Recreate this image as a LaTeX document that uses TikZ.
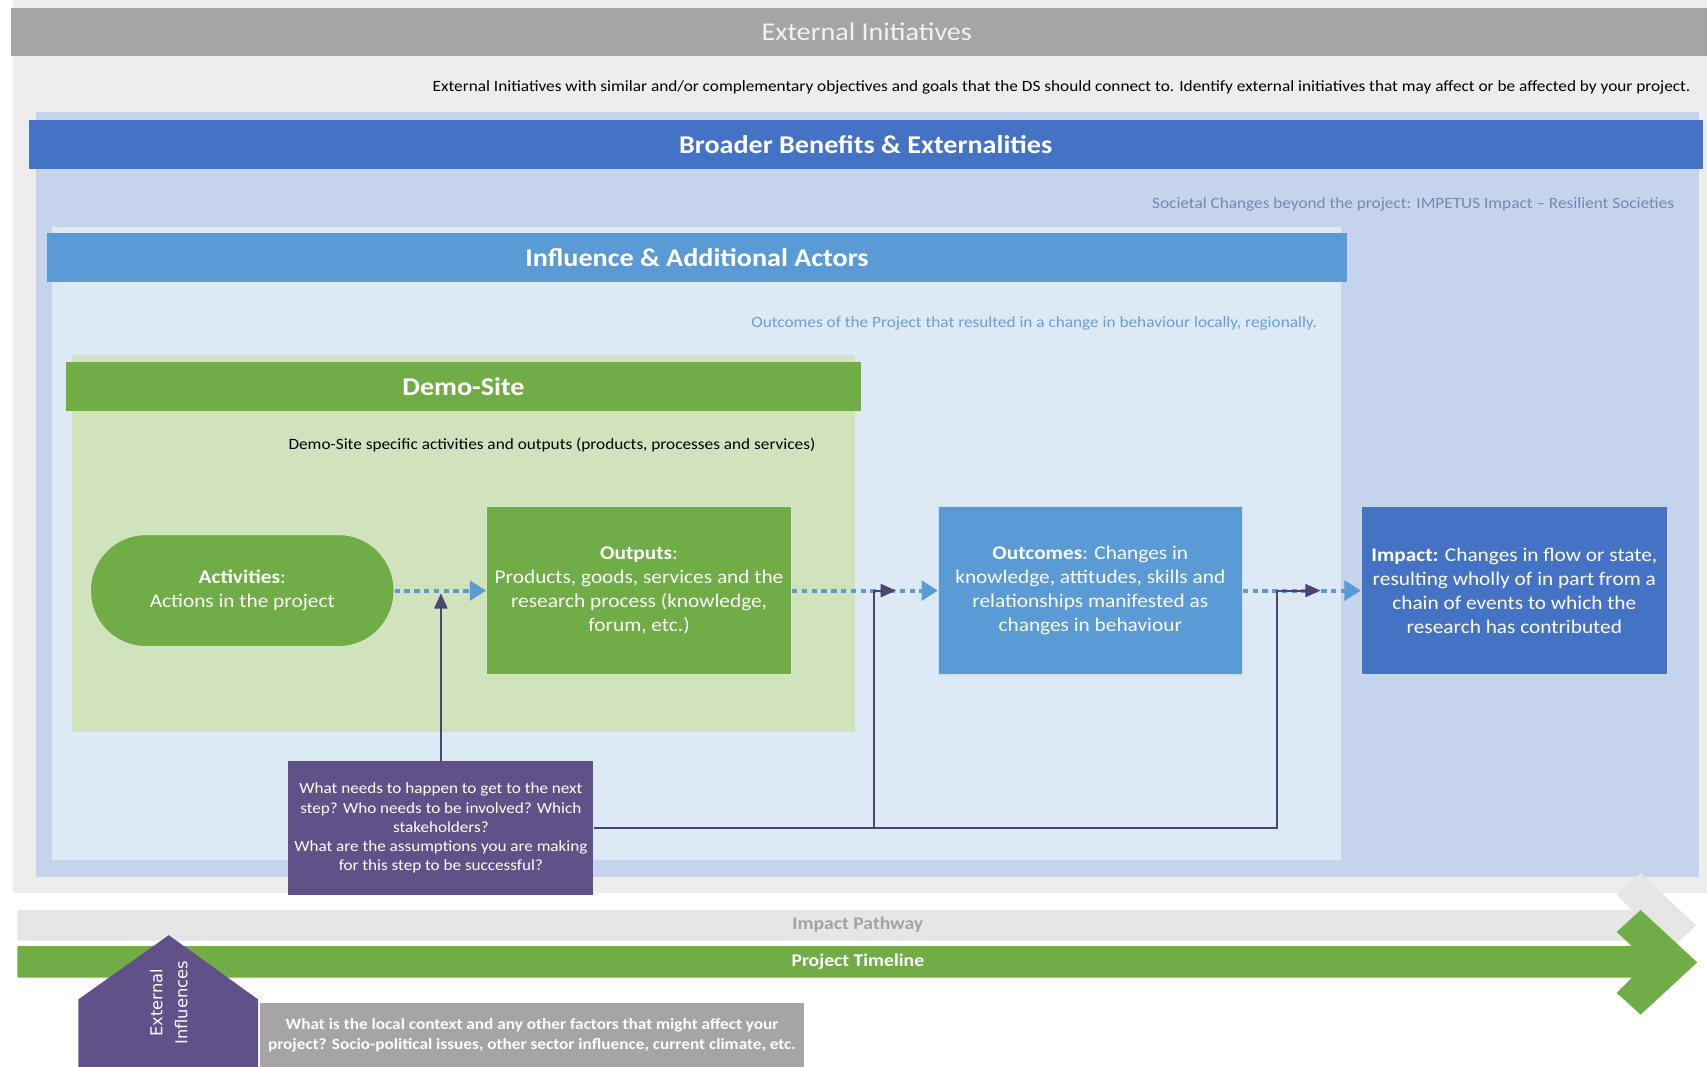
\documentclass[tikz,border=0pt]{standalone}
\usepackage{fontspec}
\setmainfont{Carlito}[FakeStretch=1.1]
\newfontfamily\verafont{DejaVu Sans}
\usepackage{tikz}
\usetikzlibrary{positioning, arrows.meta}
\definecolor{extgray}{HTML}{A5A5A5}
\definecolor{panelgray}{HTML}{EDEDED}
\definecolor{benefitblue}{HTML}{4472C4}
\definecolor{benefitbg}{HTML}{C6D3EC}
\definecolor{actorblue}{HTML}{5B9BD5}
\definecolor{actorbg}{HTML}{DDEAF6}
\definecolor{actornote}{HTML}{6A9FD3}
\definecolor{demogreen}{HTML}{70AD47}
\definecolor{demobg}{HTML}{D0E3BC}
\definecolor{askpurple}{HTML}{605288}
\definecolor{linepurple}{HTML}{4E4474}
\definecolor{pathgray}{HTML}{E6E6E6}
\definecolor{pathtext}{HTML}{A3A3A3}
\definecolor{benefitnote}{HTML}{6E8CB4}

\newcommand{\txtsize}[2]{\fontsize{#1}{#2}\selectfont}

\begin{document}
\begin{tikzpicture}[
    x=1pt, y=-1pt,
    every node/.style={inner sep=0pt, font=\txtsize{14.4}{17}},
    panel/.style={fill=#1, anchor=north west},
    titlebar/.style={fill=#1, anchor=north west, text=white, minimum height=45, font=\txtsize{23.5}{26}\bfseries},
    note/.style={anchor=east, text=#1},
    stepbox/.style={fill=#1, draw=white!70!#1, line width=1pt, text=white, align=center,
      minimum width=280, minimum height=155, font=\txtsize{17.8}{22}},
    flow/.style={draw=actorblue, line width=3.5pt, dash pattern=on 5pt off 4pt,
      -{Triangle[length=15pt, width=18pt]}},
    assume/.style={draw=linepurple, line width=2pt, -{Triangle[length=14pt, width=12pt]}},
  ]
  \useasboundingbox (0,0) rectangle (1568,980);

  % nested panels
  \node[panel=panelgray, minimum width=1556, minimum height=820] (extpanel) at (12,0) {};
  \node[titlebar=extgray, minimum width=1558, minimum height=44, font=\txtsize{23.5}{26}, text=white!95!black] (exttitle) at (10,7) {\hspace*{14pt}External Initiatives};
  \node[note=black] (extnote) at (1553,80)
    {External Initiatives with similar and/or complementary objectives and goals that the DS should connect to. Identify external initiatives that may affect or be affected by your project.};

  \node[panel=benefitbg, minimum width=1527, minimum height=702] (benefitpanel) at (33,103) {};
  \node[titlebar=benefitblue, minimum width=1538] (benefittitle) at (26,110) {Broader Benefits \& Externalities};
  \node[note=benefitnote] (benefitnote) at (1538,188)
    {Societal Changes beyond the project: IMPETUS Impact -- Resilient Societies};

  \node[panel=actorbg, minimum width=1184, minimum height=582] (actorpanel) at (48,208) {};
  \node[titlebar=actorblue, minimum width=1194] (actortitle) at (43,214) {Influence \& Additional Actors};
  \node[note=actornote] (actornote) at (1210,297)
    {Outcomes of the Project that resulted in a change in behaviour locally, regionally.};

  \node[panel=demobg, minimum width=719, minimum height=346] (demopanel) at (66,326) {};
  \node[titlebar=demogreen, minimum width=731] (demotitle) at (60,332) {Demo-Site};
  \node (demonote) at (507,409)
    {Demo-Site specific activities and outputs (products, processes and services)};

  % pathway steps
  \node[stepbox=demogreen, rounded corners=51pt, minimum width=279, minimum height=103] (act) at (222.5,542.5)
    {\textbf{Activities}:\\Actions in the project};
  \node[stepbox=demogreen] (out) at (587,542.5)
    {\textbf{Outputs}:\\Products, goods, services and the\\research process (knowledge,\\forum, etc.)};
  \node[stepbox=actorblue, minimum width=279] (outc) at (1001.5,542.5)
    {\textbf{Outcomes}: Changes in\\knowledge, attitudes, skills and\\relationships manifested as\\changes in behaviour};
  \node[stepbox=benefitblue, minimum width=281] (imp) at (1391,542.5)
    {\textbf{Impact:} Changes in flow or state,\\resulting wholly of in part from a\\chain of events to which the\\research has contributed};

  \draw[flow] (act) -- (out);
  \draw[flow] (out) -- (outc);
  \draw[flow] (outc) -- (imp);

  \node[fill=askpurple, text=white, align=center, minimum width=280, minimum height=123,
    font=\txtsize{14.3}{17.5}] (ask) at (405,760.5)
    {What needs to happen to get to the next\\step? Who needs to be involved? Which\\stakeholders?\\What are the assumptions you are making\\for this step to be successful?};

  \coordinate (hook0) at (405,545);
  \coordinate (bend1) at (803,760.5);
  \coordinate (hook1) at (823,542.5);
  \coordinate (bend2) at (1173,760.5);
  \coordinate (hook2) at (1213,542.5);

  \draw[assume] (ask.north) -- (hook0);
  \draw[assume] (bend1) |- (hook1);
  \draw[assume] (ask.east) -- (bend2) |- (hook2);

  % timeline arrows
  \fill[pathgray] (16,836) -- (1499,836) -- (1485,822) -- (1507,802) -- (1558,850)
    -- (1507,898) -- (1485,878) -- (1499,864) -- (16,864) -- cycle;
  \node[text=pathtext, font=\txtsize{16.4}{18}\bfseries] (pathway) at (788,849) {Impact Pathway};
  \fill[demogreen] (16,869) -- (1499,869) -- (1485,856) -- (1507,836) -- (1559,884)
    -- (1507,932) -- (1485,912) -- (1499,898) -- (16,898) -- cycle;
  \node[text=white, font=\txtsize{16.4}{18}\bfseries] (timeline) at (788,883) {Project Timeline};

  % external influences
  \fill[askpurple] (72,981) -- (72,918) -- (155,859) -- (237,918) -- (237,981) -- cycle;
  \node[rotate=90, text=white, align=center, font=\verafont\txtsize{15}{23}] (extinf) at (155,921)
    {External\\Influences};
  \node[panel=extgray, minimum width=499, minimum height=60, text=white, align=center,
    font=\txtsize{14.4}{18}\bfseries] (context) at (239,921)
    {What is the local context and any other factors that might affect your\\project? Socio-political issues, other sector influence, current climate, etc.};
\end{tikzpicture}
\end{document}
